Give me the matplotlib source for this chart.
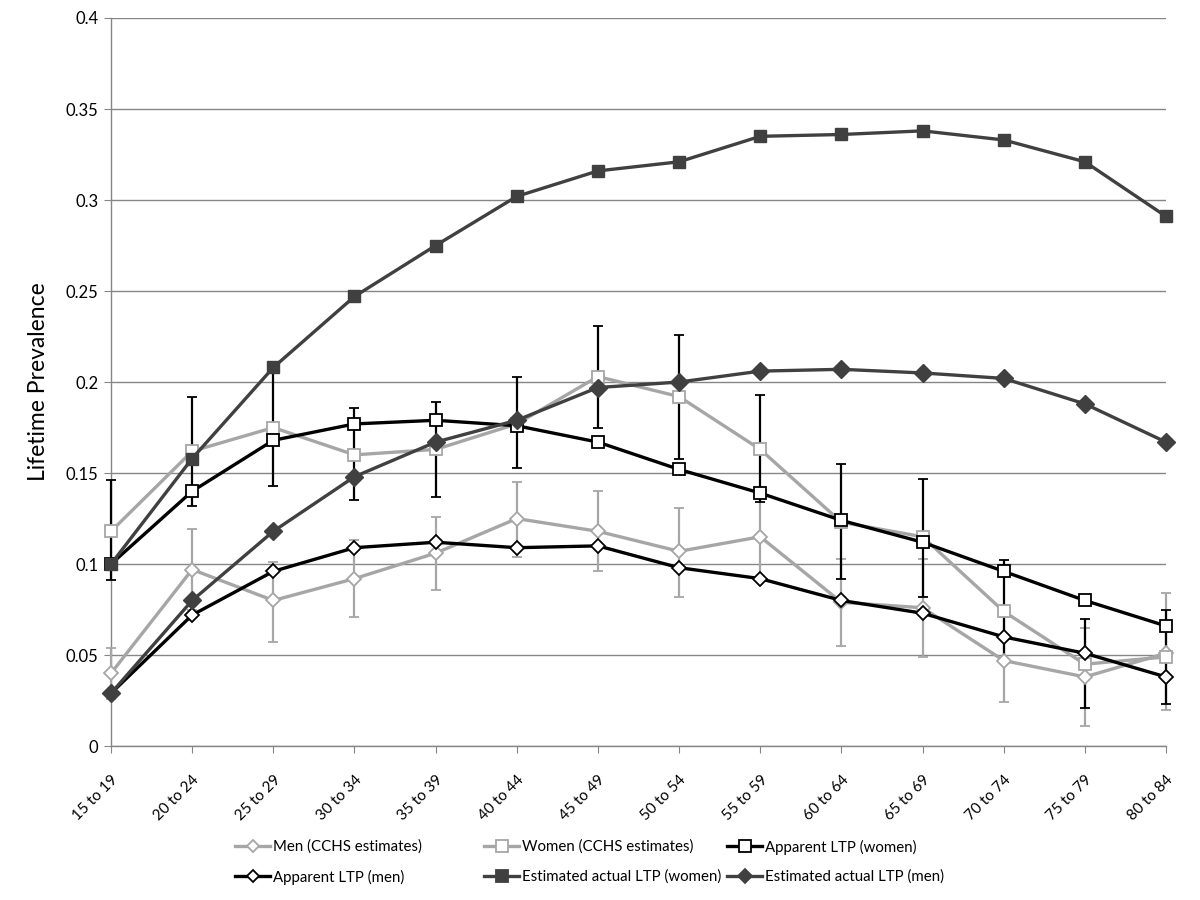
import numpy as np
import matplotlib
matplotlib.use("Agg")
import matplotlib.pyplot as plt
from matplotlib.lines import Line2D

plt.rcParams['font.family'] = ['Lato', 'DejaVu Sans']

# ---- data ----
age_groups = ["15 to 19", "20 to 24", "25 to 29", "30 to 34", "35 to 39", "40 to 44",
              "45 to 49", "50 to 54", "55 to 59", "60 to 64", "65 to 69", "70 to 74",
              "75 to 79", "80 to 84"]

men_cchs = [0.040, 0.097, 0.080, 0.092, 0.106, 0.125, 0.118, 0.107, 0.115, 0.079,
            0.076, 0.047, 0.038, 0.051]
men_cchs_lo = [0.026, 0.075, 0.057, 0.071, 0.086, 0.104, 0.096, 0.082, 0.093, 0.055,
               0.049, 0.024, 0.011, 0.020]
men_cchs_hi = [0.054, 0.119, 0.101, 0.113, 0.126, 0.145, 0.140, 0.131, 0.137, 0.103,
               0.103, 0.071, 0.065, 0.084]

women_cchs = [0.118, 0.162, 0.175, 0.160, 0.163, 0.177, 0.203, 0.192, 0.163, 0.123,
              0.115, 0.074, 0.045, 0.049]
women_cchs_lo = [0.091, 0.132, 0.143, 0.135, 0.137, 0.153, 0.175, 0.158, 0.134, 0.092,
                 0.082, 0.046, 0.021, 0.023]
women_cchs_hi = [0.146, 0.192, 0.207, 0.186, 0.189, 0.203, 0.231, 0.226, 0.193, 0.155,
                 0.147, 0.102, 0.070, 0.075]

apparent_women = [0.100, 0.140, 0.168, 0.177, 0.179, 0.176, 0.167, 0.152, 0.139, 0.124,
                  0.112, 0.096, 0.080, 0.066]
apparent_men = [0.029, 0.072, 0.096, 0.109, 0.112, 0.109, 0.110, 0.098, 0.092, 0.080,
                0.073, 0.060, 0.051, 0.038]
est_women = [0.100, 0.158, 0.208, 0.247, 0.275, 0.302, 0.316, 0.321, 0.335, 0.336,
             0.338, 0.333, 0.321, 0.291]
est_men = [0.029, 0.080, 0.118, 0.148, 0.167, 0.179, 0.197, 0.200, 0.206, 0.207,
           0.205, 0.202, 0.188, 0.167]

y_ticks = [0, 0.05, 0.1, 0.15, 0.2, 0.25, 0.3, 0.35, 0.4]
y_tick_labels = ["0", "0.05", "0.1", "0.15", "0.2", "0.25", "0.3", "0.35", "0.4"]

# ---- styles ----
LIGHT = "#a6a6a6"
DARK = "#404040"
BLACK = "#000000"
GRID = "#868686"

fig = plt.figure(figsize=(12, 9), dpi=100)
ax = fig.add_axes([0.0925, 0.171, 0.8792, 0.809])

x = np.arange(len(age_groups))

def yerr(mid, lo, hi):
    mid = np.array(mid)
    return [mid - np.array(lo), np.array(hi) - mid]

lw = 2.4
# men CCHS (grey error bars)
ax.errorbar(x, men_cchs, yerr=yerr(men_cchs, men_cchs_lo, men_cchs_hi), color=LIGHT,
            ecolor=LIGHT, elinewidth=1.6, capsize=3.5, capthick=1.6, lw=lw,
            marker="D", ms=7, mfc="white", mec=LIGHT, mew=1.3, zorder=3, clip_on=False)
# women CCHS (black error bars)
ax.errorbar(x, women_cchs, yerr=yerr(women_cchs, women_cchs_lo, women_cchs_hi), color=LIGHT,
            ecolor=BLACK, elinewidth=1.6, capsize=3.5, capthick=1.6, lw=lw,
            marker="s", ms=9, mfc="white", mec=LIGHT, mew=1.3, zorder=3, clip_on=False)
ax.plot(x, apparent_women, color=BLACK, lw=lw, marker="s", ms=9, mfc="white",
        mec=BLACK, mew=1.3, zorder=4, clip_on=False)
ax.plot(x, apparent_men, color=BLACK, lw=lw, marker="D", ms=7, mfc="white",
        mec=BLACK, mew=1.3, zorder=4, clip_on=False)
ax.plot(x, est_women, color=DARK, lw=lw, marker="s", ms=9, mfc=DARK, mec=DARK,
        zorder=5, clip_on=False)
ax.plot(x, est_men, color=DARK, lw=lw, marker="D", ms=9, mfc=DARK, mec=DARK,
        zorder=5, clip_on=False)

ax.set_xlim(0, len(age_groups) - 1)
ax.set_ylim(0, 0.4)
ax.set_yticks(y_ticks)
ax.set_yticklabels(y_tick_labels, fontsize=12)
ax.set_xticks(x)
ax.set_xticklabels(age_groups, rotation=45, ha="right", rotation_mode="anchor", fontsize=11)
ax.tick_params(axis="x", length=5, color=GRID, pad=14)
ax.tick_params(axis="y", length=5, color=GRID, pad=4)
ax.set_ylabel("Lifetime Prevalence", fontsize=16.5, labelpad=12)

ax.grid(axis="y", color=GRID, lw=1.0, zorder=0)
ax.set_axisbelow(True)
for s in ["top", "right"]:
    ax.spines[s].set_visible(False)
for s in ["left", "bottom"]:
    ax.spines[s].set_color(GRID)
    ax.spines[s].set_linewidth(1.0)

# ---- legend: one small legend per entry, on Excel's grid ----
def handle(color, marker, ms, mfc):
    return Line2D([], [], color=color, lw=lw, marker=marker, ms=ms, mfc=mfc, mec=color, mew=1.3)

entries = [
    (handle(LIGHT, "D", 6, "white"), "Men (CCHS estimates)", 235, 847),
    (handle(LIGHT, "s", 8, "white"), "Women (CCHS estimates)", 484, 847),
    (handle(BLACK, "s", 8, "white"), "Apparent LTP (women)", 727, 847),
    (handle(BLACK, "D", 6, "white"), "Apparent LTP (men)", 235, 877),
    (handle(DARK, "s", 9, DARK), "Estimated actual LTP (women)", 484, 877),
    (handle(DARK, "D", 7, DARK), "Estimated actual LTP (men)", 727, 877),
]
W, H = 1200, 900
for h, label, px, py in entries:
    fig.legend([h], [label], loc="center left", bbox_to_anchor=(px / W, 1 - py / H),
               bbox_transform=fig.transFigure, frameon=False, fontsize=10.8,
               handlelength=2.35, handletextpad=0.2, borderaxespad=0, borderpad=0)

fig.savefig("out.png", dpi=100)
